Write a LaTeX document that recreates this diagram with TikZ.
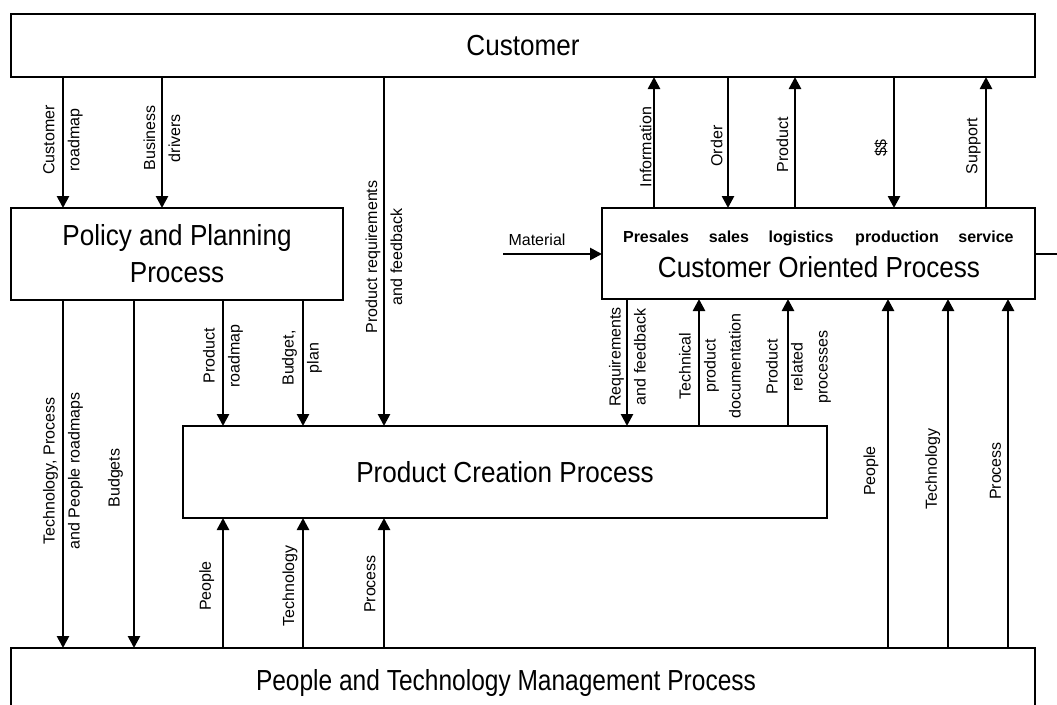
\documentclass[tikz,border=0pt]{standalone}
\usepackage{fontspec}
\setmainfont{Liberation Sans}
\newfontfamily\bigfont[FakeStretch=0.9]{Liberation Sans}
\newfontfamily\bigfontn[FakeStretch=0.845]{Liberation Sans}
\usetikzlibrary{arrows.meta}
\begin{document}
\begin{tikzpicture}[x=1pt,y=-1pt,
  box/.style={draw, line width=2.6pt, inner sep=0pt, outer sep=0pt},
  big/.style={font=\bigfont\fontsize{29}{37}\selectfont},
  bign/.style={font=\bigfontn\fontsize{29}{37}\selectfont},
  lbl/.style={font=\fontsize{16}{25}\selectfont, rotate=90, inner sep=0pt, align=center},
  hlbl/.style={font=\fontsize{16}{19}\selectfont, inner sep=0pt},
  bld/.style={font=\fontsize{16}{19}\selectfont\bfseries, inner sep=0pt, anchor=base},
  arr/.style={line width=2.6pt, -{Triangle[width=12pt,length=12pt]}},
  ln/.style={line width=2.6pt}]
\fill[white] (0,0) rectangle (1057,704);
\useasboundingbox (0,0) rectangle (1057,704);

% boxes
\node[box, minimum width=1024pt, minimum height=63pt, big] (cust) at (523,45.5) {Customer};
\node[box, minimum width=332pt, minimum height=92pt, big, align=center] (ppp) at (177,254) {Policy and Planning\\Process};
\node[box, minimum width=433pt, minimum height=91pt] (cop) at (818.5,253.5) {};
\node[box, minimum width=644pt, minimum height=92pt, big] (pcp) at (505,472) {Product Creation Process};
\node[box, minimum width=1024pt, minimum height=84pt] (ptm) at (523,690) {};
\node[bign, anchor=base, inner sep=0pt] (ptmt) at (506,690) {People and Technology Management Process};
\node[big, anchor=base, inner sep=0pt] (copt) at (819,277) {Customer Oriented Process};

% COP sub-process words
\node[bld] (w1) at (656,242) {Presales};
\node[bld] (w2) at (729,242) {sales};
\node[bld] (w3) at (801,242) {logistics};
\node[bld] (w4) at (897,242) {production};
\node[bld] (w5) at (986,242) {service};

% x positions of connectors
\coordinate (xA) at (63,0);
\coordinate (xB) at (162,0);
\coordinate (xC) at (384,0);
\coordinate (xD) at (654,0);
\coordinate (xE) at (728,0);
\coordinate (xF) at (795,0);
\coordinate (xG) at (894,0);
\coordinate (xH) at (986,0);
\coordinate (xI) at (134,0);
\coordinate (xJ) at (223,0);
\coordinate (xK) at (303,0);
\coordinate (xL) at (627,0);
\coordinate (xM) at (699,0);
\coordinate (xN) at (788,0);
\coordinate (xO) at (888,0);
\coordinate (xP) at (948,0);
\coordinate (xQ) at (1008,0);

% Customer -> PPP
\draw[arr] (cust.south -| xA) -- (ppp.north -| xA);
\draw[arr] (cust.south -| xB) -- (ppp.north -| xB);
% Customer -> PCP
\draw[arr] (cust.south -| xC) -- (pcp.north -| xC);
% Customer <-> COP
\draw[arr] (cop.north -| xD) -- (cust.south -| xD);
\draw[arr] (cust.south -| xE) -- (cop.north -| xE);
\draw[arr] (cop.north -| xF) -- (cust.south -| xF);
\draw[arr] (cust.south -| xG) -- (cop.north -| xG);
\draw[arr] (cop.north -| xH) -- (cust.south -| xH);
% PPP -> PTM, PCP
\draw[arr] (ppp.south -| xA) -- (ptm.north -| xA);
\draw[arr] (ppp.south -| xI) -- (ptm.north -| xI);
\draw[arr] (ppp.south -| xJ) -- (pcp.north -| xJ);
\draw[arr] (ppp.south -| xK) -- (pcp.north -| xK);
% COP <-> PCP
\draw[arr] (cop.south -| xL) -- (pcp.north -| xL);
\draw[arr] (pcp.north -| xM) -- (cop.south -| xM);
\draw[arr] (pcp.north -| xN) -- (cop.south -| xN);
% PTM -> PCP
\draw[arr] (ptm.north -| xJ) -- (pcp.south -| xJ);
\draw[arr] (ptm.north -| xK) -- (pcp.south -| xK);
\draw[arr] (ptm.north -| xC) -- (pcp.south -| xC);
% PTM -> COP
\draw[arr] (ptm.north -| xO) -- (cop.south -| xO);
\draw[arr] (ptm.north -| xP) -- (cop.south -| xP);
\draw[arr] (ptm.north -| xQ) -- (cop.south -| xQ);
% Material in, output right
\coordinate (mat) at (503,254);
\draw[arr] (mat) -- (cop.west |- mat);
\coordinate (outR) at (1066,254);
\draw[ln] (cop.east |- mat) -- (outR);

% labels
\node[lbl] (l1) at (63,140) {Customer\\roadmap};
\node[lbl] (l2) at (162,138) {Business\\drivers};
\node[lbl] (l3) at (384,257) {Product requirements\\and feedback};
\node[lbl] (l4) at (645.6,147) {Information};
\node[lbl] (l5) at (716.7,146) {Order};
\node[lbl] (l6) at (782.4,145) {Product};
\node[lbl] (l7) at (881,148) {\$\$};
\node[lbl] (l8) at (973.4,146) {Support};
\node[hlbl] (l9) at (537,240) {Material};
\node[lbl] (l10) at (63,471) {Technology, Process\\and People roadmaps};
\node[lbl] (l11) at (115.5,478) {Budgets};
\node[lbl] (l12) at (223,356) {Product\\roadmap};
\node[lbl] (l13) at (302,358) {Budget,\\plan};
\node[lbl] (l14) at (627.5,357) {Requirements\\and feedback};
\node[lbl] (l15) at (710,366) {Technical\\product\\documentation};
\node[lbl] (l16) at (798.5,367) {Product\\related\\processes};
\node[lbl] (l17) at (206.7,586) {People};
\node[lbl] (l18) at (290,586) {Technology};
\node[lbl] (l19) at (370,584) {Process};
\node[lbl] (l20) at (871,471) {People};
\node[lbl] (l21) at (932.7,469) {Technology};
\node[lbl] (l22) at (995.4,471) {Process};
\end{tikzpicture}
\end{document}
